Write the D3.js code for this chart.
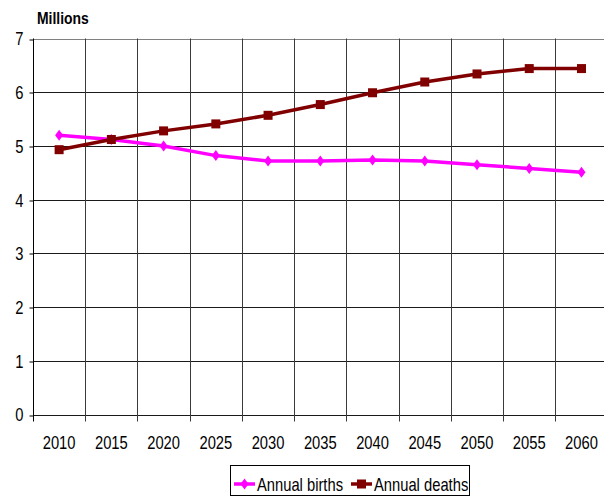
<!DOCTYPE html>
<html>
<head>
<meta charset="utf-8">
<script src="https://cdn.jsdelivr.net/npm/d3@7"></script>
<style>
  body { margin: 0; background: #fff; }
  svg { display: block; font-family: "Liberation Sans", Arial, sans-serif; }
</style>
</head>
<body>
<svg id="chart" width="604" height="497"></svg>
<script>
const years = ['2010', '2015', '2020', '2025', '2030', '2035', '2040', '2045', '2050', '2055', '2060']
const births = [5.2, 5.12, 5.0, 4.82, 4.72, 4.72, 4.74, 4.72, 4.65, 4.58, 4.51]
const deaths = [4.93, 5.12, 5.28, 5.41, 5.57, 5.77, 5.99, 6.19, 6.34, 6.44, 6.44]
const yTicks = [0, 1, 2, 3, 4, 5, 6, 7]

const plotLeft = 33, plotRight = 607.6, plotTop = 38.5, plotBottom = 414.5
const squeeze = 0.82 // narrow font look

const svg = d3.select('#chart')

const x = d3.scaleBand().domain(years).range([plotLeft, plotRight]).padding(0)
const y = d3.scaleLinear().domain([0, 7]).range([plotBottom, plotTop])
const cx = (d) => x(d) + x.bandwidth() / 2

// horizontal grid
svg.append('g')
    .selectAll('line')
    .data(yTicks)
    .enter()
    .append('line')
    .attr('x1', plotLeft)
    .attr('x2', plotRight)
    .attr('y1', (d) => Math.round(y(d)) + 0.5)
    .attr('y2', (d) => Math.round(y(d)) + 0.5)
    .attr('stroke', (d) => (d === 7 ? '#808080' : '#1a1a1a'))
    .attr('stroke-width', 1)

// vertical grid at category boundaries, with ticks below axis
const bounds = years.map((d) => x(d))
svg.append('g')
    .selectAll('line')
    .data(bounds)
    .enter()
    .append('line')
    .attr('x1', (d) => Math.round(d) + 0.5)
    .attr('x2', (d) => Math.round(d) + 0.5)
    .attr('y1', plotTop)
    .attr('y2', plotBottom + 7)
    .attr('stroke', (d, i) => (i === 0 ? '#000' : '#3a3a3a'))
    .attr('stroke-width', 1)

// y axis
const yAxis = svg.append('g')
    .attr('transform', 'translate(' + (plotLeft + 0.5) + ',0)')
    .call(d3.axisLeft(y).tickValues(yTicks).tickSize(4).tickFormat(d3.format('d')))
yAxis.select('.domain').remove()
yAxis.selectAll('line').attr('stroke', '#000').attr('transform', (d) => 'translate(0,' + (Math.round(y(d)) + 0.5 - y(d)) + ')')
yAxis.selectAll('text')
    .attr('x', -10 / squeeze)
    .attr('dy', '0.36em')
    .attr('transform', 'scale(' + squeeze + ',1)')
    .style('font-size', '18px')
    .attr('fill', '#000')

// x axis labels
const xAxis = svg.append('g')
    .attr('transform', 'translate(0,' + plotBottom + ')')
    .call(d3.axisBottom(x).tickSize(0))
xAxis.select('.domain').remove()
xAxis.selectAll('text')
    .attr('y', 22)
    .attr('dy', '0.71em')
    .attr('transform', 'scale(' + squeeze + ',1)')
    .style('font-size', '18px')
    .attr('fill', '#000')

// title
svg.append('text')
    .attr('transform', 'translate(37,24) scale(' + squeeze + ',1)')
    .style('font-size', '17px')
    .style('font-weight', 'bold')
    .text('Millions')

const line = d3.line().x((d, i) => cx(years[i])).y((d) => y(d))

// births
svg.append('path')
    .datum(births)
    .attr('d', line)
    .attr('fill', 'none')
    .attr('stroke', '#ff00ff')
    .attr('stroke-width', 3.5)
const diamond = 'M0,-5.5L4,0L0,5.5L-4,0Z'
svg.append('g')
    .selectAll('path')
    .data(births)
    .enter()
    .append('path')
    .attr('d', diamond)
    .attr('transform', (d, i) => 'translate(' + cx(years[i]) + ',' + y(d) + ')')
    .attr('fill', '#ff00ff')

// deaths
svg.append('path')
    .datum(deaths)
    .attr('d', line)
    .attr('fill', 'none')
    .attr('stroke', '#800000')
    .attr('stroke-width', 3.5)
svg.append('g')
    .selectAll('rect')
    .data(deaths)
    .enter()
    .append('rect')
    .attr('x', (d, i) => cx(years[i]) - 4.5)
    .attr('y', (d) => y(d) - 4.5)
    .attr('width', 9)
    .attr('height', 9)
    .attr('fill', '#800000')

// legend
const legend = svg.append('g')
legend.append('rect')
    .attr('x', 230.5)
    .attr('y', 465.5)
    .attr('width', 239)
    .attr('height', 30)
    .attr('fill', '#fff')
    .attr('stroke', '#000')

const items = [
    { name: 'Annual births', color: '#ff00ff', x: 234, shape: 'diamond' },
    { name: 'Annual deaths', color: '#800000', x: 351, shape: 'square' },
]
items.forEach((it) => {
    const g = legend.append('g').attr('transform', 'translate(' + it.x + ',484)')
    g.append('line').attr('x1', 0).attr('x2', 21).attr('stroke', it.color).attr('stroke-width', 3.5)
    if (it.shape === 'diamond') {
        g.append('path').attr('d', diamond).attr('transform', 'translate(10.5,0)').attr('fill', it.color)
    } else {
        g.append('rect').attr('x', 6).attr('y', -4.5).attr('width', 9).attr('height', 9).attr('fill', it.color)
    }
    g.append('text')
        .attr('transform', 'translate(23,6.5) scale(' + squeeze + ',1)')
        .style('font-size', '18px')
        .attr('fill', '#000')
        .text(it.name)
})
</script>
</body>
</html>
